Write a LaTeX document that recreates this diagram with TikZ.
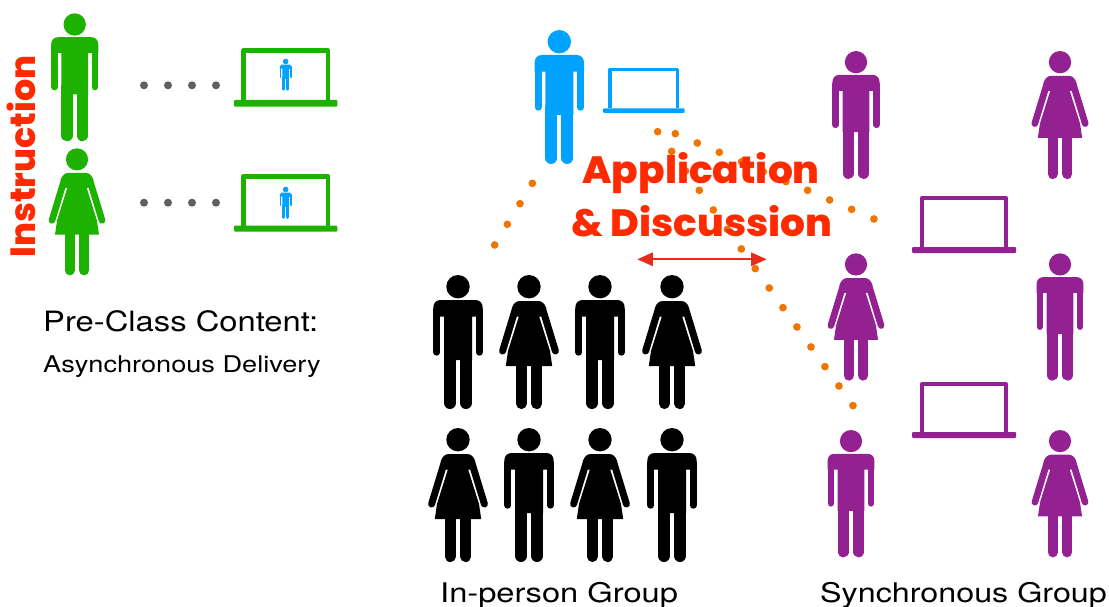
\documentclass[tikz,border=0pt]{standalone}
\usepackage{fontspec}
\setmainfont{TeX Gyre Heros}
\newfontfamily\boldwide{Poppins}[UprightFont=* ExtraBold]
\definecolor{cgreen}{HTML}{1DB100}
\definecolor{cblue}{HTML}{00A2FF}
\definecolor{cpurple}{HTML}{932192}
\definecolor{corange}{HTML}{EF7400}
\definecolor{cgray}{HTML}{5E5E5E}
\definecolor{cred}{HTML}{FF2A00}
\definecolor{carrow}{HTML}{E82C1C}
\usetikzlibrary{arrows.meta}
\tikzset{
  label text/.style={inner sep=0pt,anchor=base west,text=black},
  loud text/.style={inner sep=0pt,anchor=base,text=cred,font=\boldwide},
  grey dot/.style={fill=cgray},
  orange dot/.style={fill=corange},
}
% man: #1 centre x, #2 head-top y, #3 scale, #4 colour
\newcommand{\manfig}[4]{%
\begin{scope}[shift={(#1,#2)},scale=#3,fill=#4,draw=#4,line cap=round]
  \fill (0,11.7) circle (11.7);
  \fill (-24.7,33) .. controls (-24.7,28) and (-22,25) .. (-17,25) -- (17,25)
     .. controls (22,25) and (24.7,28) .. (24.7,33) -- (24.7,41.7) -- (14,41.7) -- (14,85) -- (-14,85) -- (-14,41.7) -- (-24.7,41.7) -- cycle;
  \draw[line width=7*#3 pt] (-21.2,35) -- (-21.2,77.2);
  \draw[line width=7*#3 pt] (21.2,35) -- (21.2,77.2);
  \draw[line width=12*#3 pt] (-8,78) -- (-8,128);
  \draw[line width=12*#3 pt] (8,78) -- (8,128);
\end{scope}}
% woman
\newcommand{\womanfig}[4]{%
\begin{scope}[shift={(#1,#2)},scale=#3,fill=#4,draw=#4,line cap=round]
  \fill (0,11.7) circle (11.7);
  \fill (-23.2,91) -- (-21,76) -- (-10.2,41.7) -- (-15.5,41.7) -- (-17.2,33)
    .. controls (-15.5,28.5) and (-13,26) .. (-9,26) -- (9,26)
    .. controls (13,26) and (15.5,28.5) .. (17.2,33) -- (15.5,41.7) -- (10.2,41.7) -- (21,76) -- (23.2,91) -- cycle;
  \draw[line width=7*#3 pt] (-13.6,34) -- (-26.4,76);
  \draw[line width=7*#3 pt] (13.6,34) -- (26.4,76);
  \draw[line width=10.7*#3 pt] (-7.7,88) -- (-7.7,128.7);
  \draw[line width=10.7*#3 pt] (7.7,88) -- (7.7,128.7);
\end{scope}}
% laptop
\newcommand{\laptopfig}[9]{%
  \draw[#9,line width=#8pt,line join=round] (#1+#8/2,#6) -- (#1+#8/2,#3+#8/2) -- (#2-#8/2,#3+#8/2) -- (#2-#8/2,#6);
  \fill[#9,rounded corners=1pt] (#4,#6) rectangle (#5,#7);
}
\begin{document}
\begin{tikzpicture}[x=1pt,y=-1pt]
\path[use as bounding box,clip] (0,0) rectangle (1109,607);
\fill[white] (0,0) rectangle (1109,607);
% green side
\manfig{74.7}{13.3}{0.955}{cgreen}
\womanfig{77}{148.3}{0.948}{cgreen}
\foreach \x in {144,168,192,216}{
  \fill[grey dot] (\x,85.3) circle (4);
  \fill[grey dot] (\x,202.7) circle (4);
}
\laptopfig{241}{330.3}{48.3}{234}{337.3}{100}{106.7}{4.7}{cgreen}
\laptopfig{241}{330.3}{174}{234}{337.3}{225.7}{231.7}{4.7}{cgreen}
\manfig{285.7}{58.7}{0.239}{cblue}
\manfig{285.7}{186.7}{0.24}{cblue}
\node[rotate=90,inner sep=0pt,anchor=base,text=cred,font=\boldwide\fontsize{35}{35}\selectfont] (instruction) at (35.5,156.5) {Instruction};
\node[label text,font=\fontsize{28}{30}\selectfont\addfontfeature{FakeStretch=1.17}] (preclass) at (43,331.7) {Pre-Class Content:};
\node[label text,font=\fontsize{23}{25}\selectfont\addfontfeature{FakeStretch=1.18}] (async) at (43,372) {Asynchronous Delivery};
% orange dots
\begin{scope}[shift={(480,20)},scale=0.3333]
\foreach \x/\y in {157/490,120/551,82/613,44/675,
  533/335,586/341,652/369,718/397,785/425,850/455,918/485,983/511,1049/540,1115/568,1182/597,
  575/394,617/453,658/511,700/570,742/628,784/687,826/746,868/804,909/863,951/921,993/981,1035/1040,1077/1098,1119/1157}
  \fill[orange dot] (\x,\y) circle (11.5);
\end{scope}
% blue
\manfig{559.3}{30}{1}{cblue}
\laptopfig{608.3}{679.3}{67.7}{603}{684.7}{108.3}{113}{3.6}{cblue}
% purple
\manfig{856}{51}{0.955}{cpurple}
\womanfig{1060}{51}{0.955}{cpurple}
\womanfig{856}{253.3}{0.95}{cpurple}
\manfig{1060}{253.3}{0.95}{cpurple}
\manfig{851}{430}{0.95}{cpurple}
\womanfig{1060}{430}{0.95}{cpurple}
\laptopfig{920}{1008}{196}{912}{1016}{247}{253}{4}{cpurple}
\laptopfig{920}{1008}{382}{912}{1016}{432}{438}{4}{cpurple}
% black
\manfig{458}{275}{1}{black}
\womanfig{529}{275}{1}{black}
\manfig{600}{275}{1}{black}
\womanfig{672}{275}{1}{black}
\womanfig{458}{428}{1}{black}
\manfig{529}{428}{1}{black}
\womanfig{600}{428}{1}{black}
\manfig{672}{428}{1}{black}
% labels
\node[label text,font=\fontsize{27}{30}\selectfont\addfontfeature{FakeStretch=1.21}] (inperson) at (440,602) {In-person Group};
\node[label text,font=\fontsize{27}{30}\selectfont\addfontfeature{FakeStretch=1.195}] (sync) at (820,602) {Synchronous Group};
\node[loud text,font=\boldwide\fontsize{38}{40}\selectfont\addfontfeature{FakeStretch=1.03}] (application) at (701,183.5) {Application};
\node[loud text,font=\boldwide\fontsize{38}{40}\selectfont\addfontfeature{FakeStretch=1.03}] (discussion) at (702,236.7) {\& Discussion};
\coordinate (arrowleft) at (637.3,259.3);
\coordinate (arrowright) at (766.7,259.3);
\draw[carrow,line width=2pt,{Triangle[length=15.6pt,width=13.3pt]}-{Triangle[length=15.6pt,width=13.3pt]}] (arrowleft) -- (arrowright);
\end{tikzpicture}
\end{document}
